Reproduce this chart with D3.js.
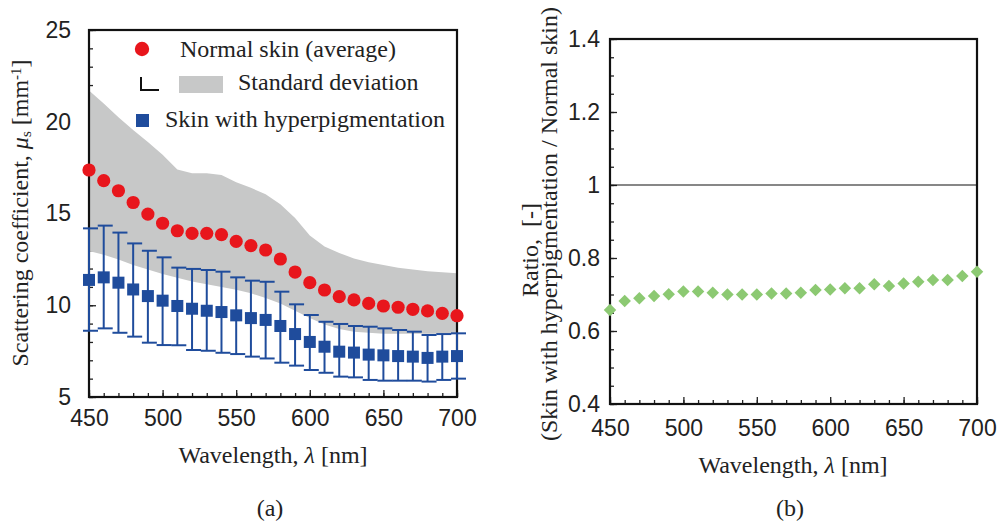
<!DOCTYPE html>
<html>
<head>
<meta charset="utf-8">
<script src="https://cdn.jsdelivr.net/npm/d3@7/dist/d3.min.js"></script>
<style>
  body { margin: 0; background: #fff; }
  svg text { font-family: Arial, "Liberation Sans", Helvetica, sans-serif; }
  .tick text { font-family: Arial, "Liberation Sans", Helvetica, sans-serif; font-size: 23px; fill: #222; }
  text.serif { font-family: "Times New Roman", "Liberation Serif", Times, serif; font-size: 24px; fill: #222; white-space: pre; }
  .domain { display: none; }
  .tick line { stroke: #222; stroke-width: 1.3; }
</style>
</head>
<body>
<script>
'use strict';

// wavelength categories [nm]
var wavelengths = [450, 460, 470, 480, 490, 500, 510, 520, 530, 540, 550, 560, 570,
    580, 590, 600, 610, 620, 630, 640, 650, 660, 670, 680, 690, 700];

// normal skin, average and the +/- SD band [mm-1]
var normalMean = [17.37, 16.79, 16.24, 15.6, 14.97, 14.47, 14.06, 13.92, 13.92, 13.85,
    13.48, 13.25, 13.01, 12.52, 11.81, 11.23, 10.83, 10.47, 10.29, 10.1, 9.96, 9.89,
    9.78, 9.69, 9.56, 9.43];
var normalUpper = [21.7, 21.0, 20.25, 19.55, 18.9, 18.2, 17.4, 17.2, 17.2, 17.1, 16.7,
    16.4, 16.05, 15.5, 14.75, 13.8, 13.2, 12.85, 12.55, 12.35, 12.2, 12.05, 11.95,
    11.85, 11.8, 11.75];
var normalLower = [12.95, 12.75, 12.5, 12.2, 11.95, 11.7, 11.5, 11.3, 11.15, 11.0,
    10.85, 10.65, 10.4, 10.1, 9.7, 9.3, 8.95, 8.7, 8.55, 8.5, 8.45, 8.45, 8.45, 8.45,
    8.45, 8.45];

// skin with hyperpigmentation, average and error bar ends [mm-1]
var hyperMean = [11.38, 11.52, 11.23, 10.86, 10.5, 10.25, 9.96, 9.81, 9.7, 9.63, 9.45,
    9.3, 9.2, 8.87, 8.43, 8.0, 7.74, 7.47, 7.42, 7.31, 7.27, 7.23, 7.2, 7.13, 7.2, 7.23];
var hyperUpper = [14.19, 14.34, 13.96, 13.37, 12.97, 12.61, 12.05, 11.98, 11.92, 11.83,
    11.52, 11.34, 11.28, 10.74, 10.05, 9.47, 9.1, 8.98, 8.87, 8.83, 8.74, 8.65, 8.56,
    8.38, 8.43, 8.47];
var hyperLower = [8.61, 8.74, 8.5, 8.29, 7.96, 7.83, 7.82, 7.56, 7.52, 7.41, 7.34, 7.2,
    7.1, 6.87, 6.71, 6.47, 6.32, 6.11, 6.07, 5.93, 5.89, 5.89, 5.89, 5.84, 5.93, 6.0];

// ratio hyperpigmentation / normal [-]
var ratio = [0.6575, 0.682, 0.69, 0.696, 0.701, 0.708, 0.708, 0.705, 0.70, 0.70, 0.70,
    0.703, 0.703, 0.705, 0.712, 0.714, 0.717, 0.717, 0.728, 0.723, 0.73, 0.735, 0.74,
    0.74, 0.751, 0.762];

// tick labels
var xTicks = [450, 500, 550, 600, 650, 700];
var scatterTicks = [5, 10, 15, 20, 25];
var ratioTicks = [0.4, 0.6, 0.8, 1, 1.2, 1.4];

var legendLabels = ['Normal skin (average)', 'Standard deviation',
    'Skin with hyperpigmentation'];

var COLORS = {
  band: '#c7c8c8',
  blue: '#1f4c9c',
  green: '#8cc972',
  red: '#e8161c'
};

var SANS = 'Arial, "Liberation Sans", Helvetica, sans-serif',
    SERIF = '"Times New Roman", "Liberation Serif", Times, serif';


var svg = d3.select('body').append('svg')
    .attr('width', 1002)
    .attr('height', 524);


/**
 * Draws a framed plot with inward ticks, returns the plot group and scales.
 */
var makeFrame = function (options) {
  var g,
      x,
      y,
      w,
      h;

  w = options.right - options.left;
  h = options.bottom - options.top;
  x = d3.scaleLinear().domain([450, 700]).range([0, w]);
  y = d3.scaleLinear().domain(options.yDomain).range([h, 0]);

  g = svg.append('g')
      .attr('transform', 'translate(' + options.left + ',' + options.top + ')');

  // minor ticks
  g.append('g')
      .attr('transform', 'translate(0,' + h + ')')
      .call(d3.axisBottom(x).ticks(25).tickSize(-4).tickFormat(''));
  g.append('g')
      .call(d3.axisLeft(y).ticks(20).tickSize(-4).tickFormat(''));

  // major ticks and labels
  g.append('g')
      .attr('transform', 'translate(0,' + h + ')')
      .call(d3.axisBottom(x).tickValues(xTicks).tickSize(-7)
          .tickPadding(options.xPad).tickFormat(String))
      .attr('font-family', SANS);
  g.append('g')
      .call(d3.axisLeft(y).tickValues(options.yTicks).tickSize(-7)
          .tickPadding(options.yPad).tickFormat(String))
      .attr('font-family', SANS);

  g.append('rect')
      .attr('width', w)
      .attr('height', h)
      .attr('fill', 'none')
      .attr('stroke', '#111')
      .attr('stroke-width', 2.2);

  return {g: g, x: x, y: y, w: w, h: h};
};


// (a) scattering coefficient
var a = makeFrame({
  left: 89, right: 457, top: 30, bottom: 397,
  yDomain: [5, 25], yTicks: scatterTicks, xPad: 13, yPad: 18
});

a.g.insert('path', 'rect')
    .datum(wavelengths)
    .attr('fill', COLORS.band)
    .attr('d', d3.area()
        .x(function (d) { return a.x(d); })
        .y0(function (d, i) { return a.y(normalLower[i]); })
        .y1(function (d, i) { return a.y(normalUpper[i]); }));

var bars = a.g.append('g')
    .attr('stroke', COLORS.blue)
    .attr('stroke-width', 2)
    .attr('fill', 'none');

wavelengths.forEach(function (wl, i) {
  var cx = a.x(wl);
  bars.append('line')
      .attr('x1', cx).attr('x2', cx)
      .attr('y1', a.y(hyperLower[i])).attr('y2', a.y(hyperUpper[i]));
  [hyperLower[i], hyperUpper[i]].forEach(function (v) {
    bars.append('line')
        .attr('x1', cx - 6).attr('x2', cx + 9)
        .attr('y1', a.y(v)).attr('y2', a.y(v));
  });
});

a.g.append('g').selectAll('rect')
    .data(wavelengths)
    .join('rect')
    .attr('x', function (d) { return a.x(d) - 6; })
    .attr('y', function (d, i) { return a.y(hyperMean[i]) - 6; })
    .attr('width', 12)
    .attr('height', 12)
    .attr('fill', COLORS.blue);

a.g.append('g').selectAll('circle')
    .data(wavelengths)
    .join('circle')
    .attr('cx', function (d) { return a.x(d); })
    .attr('cy', function (d, i) { return a.y(normalMean[i]); })
    .attr('r', 6.6)
    .attr('fill', COLORS.red);

// legend
var legend = a.g.append('g');
legend.append('circle')
    .attr('cx', 53).attr('cy', 19).attr('r', 7.2)
    .attr('fill', COLORS.red);
legend.append('path')
    .attr('d', 'M52,47V60H70')
    .attr('fill', 'none')
    .attr('stroke', '#111')
    .attr('stroke-width', 2);
legend.append('rect')
    .attr('x', 90).attr('y', 46).attr('width', 44).attr('height', 17)
    .attr('fill', COLORS.band);
legend.append('rect')
    .attr('x', 47).attr('y', 84).attr('width', 13).attr('height', 13)
    .attr('fill', COLORS.blue);
legend.selectAll('text')
    .data(legendLabels)
    .join('text')
    .attr('class', 'serif')
    .attr('font-family', SERIF)
    .attr('x', function (d, i) { return [91, 149, 76][i]; })
    .attr('y', function (d, i) { return [27, 60, 97][i]; })
    .text(function (d) { return d; });

// (b) ratio
var b = makeFrame({
  left: 610, right: 977, top: 39, bottom: 404,
  yDomain: [0.4, 1.4], yTicks: ratioTicks, xPad: 16, yPad: 10
});

b.g.append('line')
    .attr('x1', 0).attr('x2', b.w)
    .attr('y1', b.y(1)).attr('y2', b.y(1))
    .attr('stroke', '#111')
    .attr('stroke-width', 1.2);

b.g.append('g').selectAll('path')
    .data(wavelengths)
    .join('path')
    .attr('d', d3.symbol(d3.symbolSquare, 78))
    .attr('transform', function (d, i) {
      return 'translate(' + b.x(d) + ',' + b.y(ratio[i]) + ') rotate(45)';
    })
    .attr('fill', COLORS.green);


// axis titles
var addTitle = function (x, y, rotate, parts) {
  var t = svg.append('text')
      .attr('class', 'serif')
      .attr('font-family', SERIF)
      .attr('text-anchor', 'middle')
      .attr('transform', 'translate(' + x + ',' + y + ')' +
          (rotate ? ' rotate(-90)' : ''));
  parts.forEach(function (p) {
    var s = t.append('tspan').text(p.text);
    if (p.italic) {
      s.attr('font-style', 'italic');
    }
    if (p.shift) {
      s.attr('font-size', 15).attr('baseline-shift', p.shift);
    }
  });
  return t;
};

addTitle(28, 213, true, [
  {text: 'Scattering coefficient, '},
  {text: 'μ', italic: true},
  {text: 's', shift: '-18%'},
  {text: ' [mm'},
  {text: '-1', shift: '45%'},
  {text: ']'}
]);
addTitle(273, 463, false, [
  {text: 'Wavelength, '}, {text: 'λ', italic: true}, {text: ' [nm]'}
]);
addTitle(793, 473, false, [
  {text: 'Wavelength, '}, {text: 'λ', italic: true}, {text: ' [nm]'}
]);
addTitle(538, 250, true, [{text: 'Ratio,  [-]'}]);
addTitle(557, 224, true, [{text: '(Skin with hyperpigmentation / Normal skin)'}]);
addTitle(270, 516, false, [{text: '(a)'}]);
addTitle(790, 516, false, [{text: '(b)'}]);
</script>
</body>
</html>
